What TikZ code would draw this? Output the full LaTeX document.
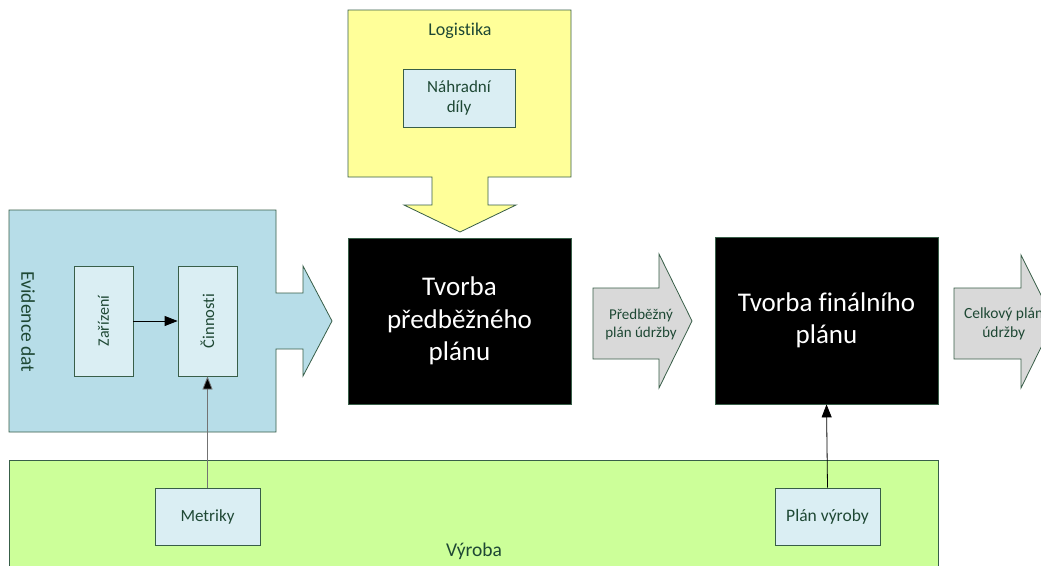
\documentclass[tikz,border=0pt]{standalone}
\usepackage{fontspec}
\setmainfont{Carlito}[Ligatures=NoCommon]
\usetikzlibrary{arrows.meta}
\definecolor{edge}{RGB}{56,94,72}
\definecolor{ink}{RGB}{30,72,52}
\definecolor{evfill}{RGB}{183,221,232}
\definecolor{boxfill}{RGB}{218,238,243}
\definecolor{logfill}{RGB}{255,255,153}
\definecolor{vyrfill}{RGB}{204,255,153}
\definecolor{grayfill}{RGB}{217,217,217}
\newcommand{\fs}[1]{\fontsize{#1pt}{\dimexpr #1pt*6/5\relax}\selectfont}
\tikzset{
  x=1pt, y=-1pt,
  panel/.style={draw=edge, line width=0.8pt},
  inbox/.style={draw=edge, line width=0.8pt, fill=boxfill, text=ink, inner sep=0pt, align=center},
  bigbox/.style={draw=edge, line width=0.8pt, fill=black, text=white, inner sep=0pt, align=center, font=\fs{27}},
  label/.style={text=ink, inner sep=0pt, align=center},
  link/.style={line width=0.8pt, -{Triangle[length=13pt,width=10pt,fill=black]}},
}
\begin{document}
\begin{tikzpicture}
\useasboundingbox (0,0) rectangle (1041,565);
\clip (0,0) rectangle (1041,565);
\fill[white] (0,0) rectangle (1041,565);

% Evidence dat panel with its outgoing arrow
\draw[panel, fill=evfill] (9,210) -- (276,210) -- (276,293) -- (303,293) -- (303,266)
  -- (332,321) -- (303,376) -- (303,349) -- (276,349) -- (276,432) -- (9,432) -- cycle;
\node[label, rotate=-90, font=\fs{19.5}] (evid) at (28,322) {Evidence dat};
\node[inbox, minimum width=59pt, minimum height=110pt] (zar) at (103.5,321) {};
\node[label, rotate=90, font=\fs{16}] at (zar.center) {Zařízení};
\node[inbox, minimum width=59pt, minimum height=110pt] (cin) at (207.5,321) {};
\node[label, rotate=90, font=\fs{16.5}] at (cin.center) {Činnosti};

% Logistika panel with its downward arrow
\draw[panel, fill=logfill] (348,10) -- (571,10) -- (571,177) -- (488,177) -- (488,205)
  -- (516,205) -- (460,232) -- (404,205) -- (432,205) -- (432,177) -- (348,177) -- cycle;
\node[label, font=\fs{18}] (log) at (460,31) {Logistika};
\node[inbox, minimum width=112pt, minimum height=58pt, font=\fs{17}] (nd) at (459,98) {Náhradní\\díly};

% Výroba panel
\draw[panel, fill=vyrfill] (9,460) rectangle (938,580);
\node[label, font=\fs{19.5}] (vyr) at (474,551) {Výroba};
\node[inbox, minimum width=105pt, minimum height=57pt, font=\fs{17}] (met) at (207.5,516.5) {Metriky};
\node[inbox, minimum width=105pt, minimum height=57pt, font=\fs{17.5}] (pv) at (827.5,516.5) {Plán výroby};

% Main process blocks
\node[bigbox, minimum width=223pt, minimum height=166pt] (tp) at (459.5,321) {Tvorba\\předběžného\\plánu};
\node[bigbox, minimum width=223pt, minimum height=167pt] (tf) at (826.5,320.5) {Tvorba finálního\\plánu};

% Grey result arrows
\draw[panel, fill=grayfill] (593,288) -- (659,288) -- (659,254) -- (692,321) -- (659,388)
  -- (659,359) -- (593,359) -- cycle;
\node[label, font=\fs{15}] (pred) at (641,324) {Předběžný\\plán údržby};
\draw[panel, fill=grayfill] (954,288) -- (1021,288) -- (1021,255) -- (1054,321) -- (1021,388)
  -- (1021,359) -- (954,359) -- cycle;
\node[label, font=\fs{15.5}, anchor=west, align=center] (celk) at (964,324) {Celkový plán\\údržby};

% Connectors
\draw[link] (zar.east) -- (cin.west);
\draw[link, draw=black!55] (met.north) -- (cin.south);
\draw[link] (pv.north) -- (tf.south);
\end{tikzpicture}
\end{document}
